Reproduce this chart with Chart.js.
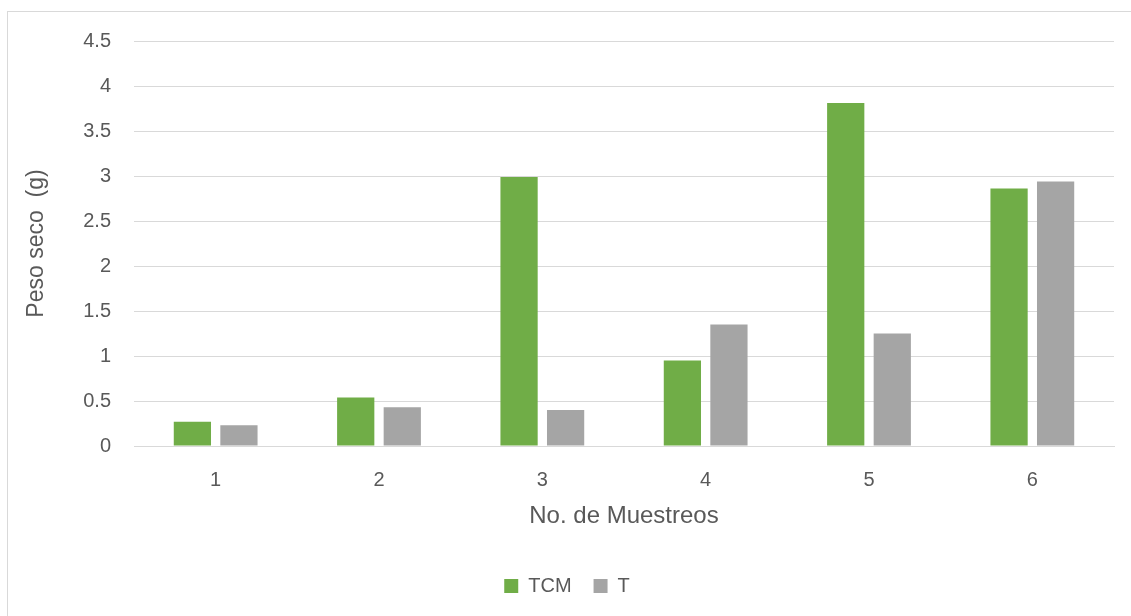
<!DOCTYPE html>
<html>
<head>
<meta charset="utf-8">
<script src="https://cdn.jsdelivr.net/npm/chart.js@4/dist/chart.umd.min.js"></script>
<style>
  html, body { margin: 0; padding: 0; background: #ffffff; }
  #wrap { position: relative; width: 1131px; height: 616px; }
</style>
</head>
<body>
<div id="wrap"><canvas id="c" width="1131" height="616"></canvas></div>
<script>
// Muestreos (categorías del eje X)
const categories = ['1', '2', '3', '4', '5', '6'];
// Peso seco (g) por tratamiento
const tcmValues = [0.27, 0.54, 2.99, 0.95, 3.81, 2.86];
const tValues = [0.23, 0.43, 0.40, 1.35, 1.25, 2.94];
const seriesNames = ['TCM', 'T'];
const yTitle = 'Peso seco  (g)';
const xTitle = 'No. de Muestreos';

const textColor = '#595959';
const gridColor = '#D9D9D9';
const fontFamily = '"Liberation Sans", Arial, sans-serif';

// Marco exterior del gráfico
const framePlugin = {
  id: 'frame',
  beforeDraw(chart) {
    const ctx = chart.ctx;
    ctx.save();
    ctx.fillStyle = '#ffffff';
    ctx.fillRect(0, 0, chart.width, chart.height);
    ctx.strokeStyle = '#D9D9D9';
    ctx.lineWidth = 1;
    ctx.strokeRect(7.5, 11.5, 1140, 620);
    ctx.restore();
  }
};

new Chart(document.getElementById('c'), {
  type: 'bar',
  data: {
    labels: categories,
    datasets: [
      { label: seriesNames[0], data: tcmValues, backgroundColor: '#70AD47' },
      { label: seriesNames[1], data: tValues, backgroundColor: '#A5A5A5' }
    ]
  },
  plugins: [framePlugin],
  options: {
    responsive: false,
    animation: false,
    devicePixelRatio: 1,
    categoryPercentage: 0.57,
    barPercentage: 0.8,
    layout: { padding: { left: 20, right: 17, top: 41, bottom: 10 } },
    plugins: {
      tooltip: { enabled: false },
      legend: {
        position: 'bottom',
        labels: {
          color: textColor,
          font: { family: fontFamily, size: 20 },
          boxWidth: 14,
          boxHeight: 14,
          padding: 22
        }
      }
    },
    scales: {
      x: {
        grid: { display: false, drawTicks: false },
        border: { display: true, color: gridColor, width: 1 },
        ticks: { color: textColor, font: { family: fontFamily, size: 20 }, padding: 22 },
        title: {
          display: true, text: xTitle, color: textColor,
          font: { family: fontFamily, size: 24 }, padding: { top: 0, bottom: 23 }
        },
        afterFit(s) { s.height = 108; }
      },
      y: {
        min: 0, max: 4.5,
        grid: { color: gridColor, lineWidth: 1, drawTicks: false },
        border: { display: false },
        ticks: {
          stepSize: 0.5, color: textColor,
          font: { family: fontFamily, size: 20 }, padding: 23,
          callback: (v) => String(Number(v.toFixed(1)))
        },
        title: {
          display: true, text: yTitle, color: textColor,
          font: { family: fontFamily, size: 23 }, padding: { top: 3, bottom: 0 }
        },
        afterFit(s) { s.width = 114; }
      }
    }
  }
});
</script>
</body>
</html>
